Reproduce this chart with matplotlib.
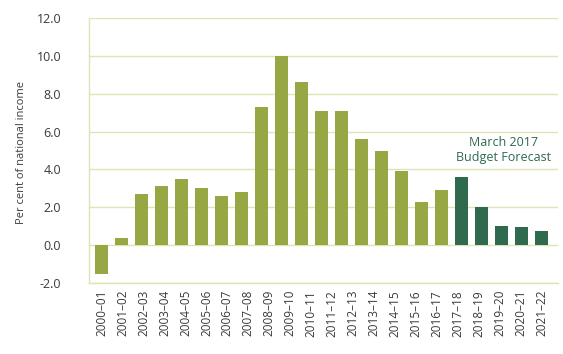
import matplotlib.pyplot as plt
import numpy as np

plt.rcParams['font.family'] = ['Open Sans', 'DejaVu Sans']

# data (23 bars, but the original only has 22 year labels)
years = ['2000–01', '2001–02', '2002–03', '2003–04', '2004–05', '2005–06',
         '2006–07', '2007–08', '2008–09', '2009–10', '2010–11', '2011–12',
         '2012–13', '2013–14', '2014–15', '2015–16', '2016–17', '2017–18',
         '2018–19', '2019–20', '2020–21', '2021–22']
actual = [-1.5, 0.4, 2.7, 3.1, 3.5, 3.0, 2.6, 2.8, 7.3, 10.0, 8.6, 7.1,
          7.1, 5.6, 5.0, 3.9, 2.3, 2.9]
forecast = [3.6, 2.0, 1.0, 0.95, 0.75]

light = '#97a744'
dark = '#2f6a4f'
grid = '#dfe4b4'
txt = '#3a3a3a'

fig = plt.figure(figsize=(5.63, 3.54), dpi=100)
ax = fig.add_axes([89 / 563, 1 - 283 / 354, (558 - 89) / 563, (283 - 18) / 354])

x_act = np.arange(len(actual))
x_fc = np.arange(len(actual), len(actual) + len(forecast))
ax.bar(x_act, actual, width=0.65, color=light, zorder=3)
ax.bar(x_fc, forecast, width=0.65, color=dark, zorder=3)

n = len(actual) + len(forecast)
ax.set_xticks(np.linspace(0, n - 1, len(years)))
ax.set_xticklabels(years, rotation=90, fontsize=8.5, color=txt)
ax.set_xlim(-0.63, n - 1 + 0.8)

ax.set_ylim(-2, 12)
ax.set_yticks(np.arange(-2, 13, 2))
ax.set_yticklabels(['%.1f' % v for v in np.arange(-2, 13, 2)], fontsize=9, color=txt)
ax.yaxis.grid(True, color=grid, linewidth=1, zorder=0)
ax.tick_params(axis='both', length=0)
ax.tick_params(axis='y', pad=20)
ax.tick_params(axis='x', pad=5)

for s in ['top', 'right']:
    ax.spines[s].set_visible(False)
for s in ['left', 'bottom']:
    ax.spines[s].set_color(grid)
    ax.spines[s].set_linewidth(1)

ax.set_ylabel('Per cent of national income', fontsize=8, color=txt)
ax.yaxis.set_label_coords(-(89 - 27) / 469, (283 - 153) / 265)

ax.text(20.1, 5.0, 'March 2017\nBudget Forecast', ha='center', va='center',
        fontsize=9, color=dark, linespacing=1.2)

fig.savefig('out.png', dpi=100)
